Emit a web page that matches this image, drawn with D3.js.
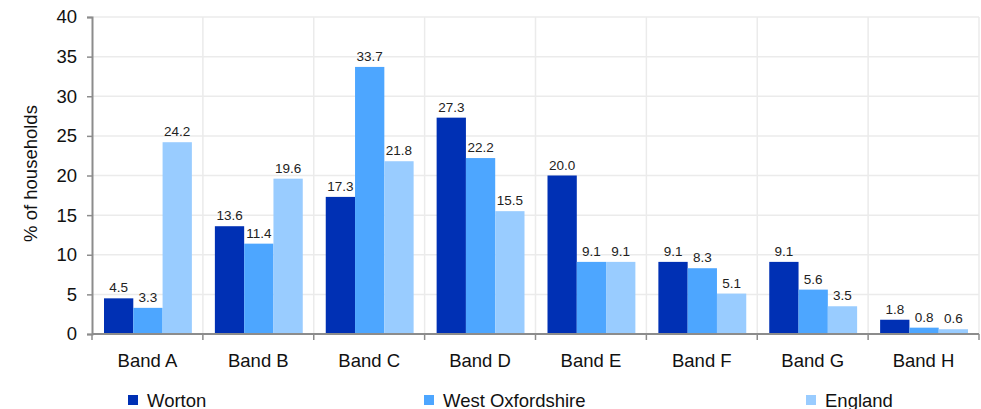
<!DOCTYPE html>
<html>
<head>
<meta charset="utf-8">
<script src="https://cdn.jsdelivr.net/npm/d3@7"></script>
<style>
  body { margin: 0; background: #fff; font-family: "Liberation Sans", Arial, sans-serif; }
</style>
</head>
<body>
<div id="chart"></div>
<script>
const bands = ['Band A','Band B','Band C','Band D','Band E','Band F','Band G','Band H'];
const seriesNames = ['Worton','West Oxfordshire','England'];
const worton = [4.5, 13.6, 17.3, 27.3, 20.0, 9.1, 9.1, 1.8];
const westOxon = [3.3, 11.4, 33.7, 22.2, 9.1, 8.3, 5.6, 0.8];
const england = [24.2, 19.6, 21.8, 15.5, 9.1, 5.1, 3.5, 0.6];
const yTicks = [0, 5, 10, 15, 20, 25, 30, 35, 40];
const colors = ['#0030b4', '#4da6ff', '#99ccff'];

const W = 981, H = 409;
const MARGIN = {left: 92, right: 2, top: 17, bottom: 75};
const width = W - MARGIN.left - MARGIN.right;
const height = H - MARGIN.top - MARGIN.bottom;
const BIG = '18.5px';

const values = [worton, westOxon, england];

const svg = d3.select('#chart').append('svg')
  .attr('width', W).attr('height', H);
const g = svg.append('g').attr('transform', `translate(${MARGIN.left},${MARGIN.top})`);

const x = d3.scaleBand().domain(bands).range([0, width]);
const x1 = d3.scaleBand().domain(seriesNames).range([12, x.bandwidth() - 11]);
const y = d3.scaleLinear().domain([0, 40]).range([height, 0]);

// horizontal grid
g.selectAll('.hgrid').data(yTicks.slice(1)).enter().append('line')
  .attr('x1', 0).attr('x2', width)
  .attr('y1', d => y(d)).attr('y2', d => y(d))
  .attr('stroke', '#ebebeb').attr('stroke-width', 1.5);

// vertical grid at band boundaries
g.selectAll('.vgrid').data(d3.range(1, bands.length + 1)).enter().append('line')
  .attr('x1', i => x.step() * i).attr('x2', i => x.step() * i)
  .attr('y1', 0).attr('y2', height)
  .attr('stroke', '#ebebeb').attr('stroke-width', 1.5);

// bars
const groups = g.selectAll('.band').data(bands).enter().append('g')
  .attr('transform', d => `translate(${x(d)},0)`);

groups.each(function(b, bi) {
  const grp = d3.select(this);
  seriesNames.forEach((s, si) => {
    const v = values[si][bi];
    grp.append('rect')
      .attr('x', x1(s)).attr('width', x1.bandwidth())
      .attr('y', y(v)).attr('height', height - y(v))
      .attr('fill', colors[si]);
    grp.append('text')
      .attr('x', x1(s) + x1.bandwidth() / 2)
      .attr('y', y(v) - 6)
      .attr('text-anchor', 'middle')
      .attr('font-size', '13.5px')
      .attr('fill', '#222')
      .text(v.toFixed(1));
  });
});

// y axis
const yAxis = g.append('g')
  .call(d3.axisLeft(y).tickValues(yTicks).tickSize(5).tickPadding(10));
yAxis.select('.domain').attr('stroke', '#8c8c8c').attr('stroke-width', 2);
yAxis.selectAll('.tick line').attr('stroke', '#8c8c8c').attr('stroke-width', 1.5);
yAxis.selectAll('.tick text').attr('font-size', BIG).attr('fill', '#111')
  .attr('font-family', '"Liberation Sans", Arial, sans-serif');

// x axis
const xAxisG = g.append('g').attr('transform', `translate(0,${height})`);
xAxisG.append('line').attr('x1', 0).attr('x2', width).attr('y1', 0).attr('y2', 0)
  .attr('stroke', '#8c8c8c').attr('stroke-width', 2);
xAxisG.selectAll('.xtick').data(d3.range(bands.length + 1)).enter().append('line')
  .attr('x1', i => x.step() * i).attr('x2', i => x.step() * i)
  .attr('y1', 0).attr('y2', 6)
  .attr('stroke', '#8c8c8c').attr('stroke-width', 1.5);
xAxisG.selectAll('.xlabel').data(bands).enter().append('text')
  .attr('x', d => x(d) + x.bandwidth() / 2)
  .attr('y', 33)
  .attr('text-anchor', 'middle')
  .attr('font-size', BIG).attr('fill', '#111')
  .text(d => d);

// y title
g.append('text')
  .attr('transform', 'rotate(-90)')
  .attr('x', -height / 2 + 2).attr('y', -55)
  .attr('text-anchor', 'middle')
  .attr('font-size', BIG).attr('fill', '#111')
  .text('% of households');

// legend
const legendX = [128, 424, 806];
const legend = svg.append('g').attr('transform', 'translate(0,400)');
seriesNames.forEach((s, i) => {
  legend.append('rect').attr('x', legendX[i]).attr('y', -5).attr('width', 10).attr('height', 10)
    .attr('fill', colors[i]);
  legend.append('text').attr('x', legendX[i] + 19).attr('y', 6.5)
    .attr('font-size', BIG).attr('fill', '#111').text(s);
});
</script>
</body>
</html>
